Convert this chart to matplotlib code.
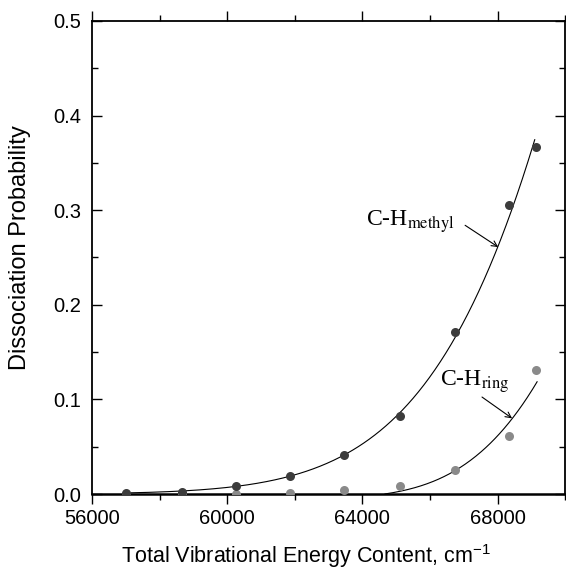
"""Dissociation probability vs total vibrational energy (C-H methyl / ring)."""
import matplotlib
matplotlib.use("Agg")
import matplotlib.pyplot as plt
import numpy as np
from matplotlib.ticker import MultipleLocator

plt.rcParams["font.family"] = ["Liberation Sans", "DejaVu Sans"]
plt.rcParams["mathtext.fontset"] = "stix"

# ── data ────────────────────────────────────────────────────────────────────
energy = [57000, 58650, 60250, 61850, 63450, 65100, 66750, 68350, 69150]
p_methyl = [0.001, 0.002, 0.008, 0.019, 0.041, 0.082, 0.171, 0.305, 0.367]
p_ring = [0.000, 0.000, 0.000, 0.001, 0.004, 0.009, 0.025, 0.061, 0.131]

# the ring curve is a model line, not a fit to the dots: points read along it
ring_curve_e = [64670, 66000, 67690, 68430, 69170]
ring_curve_p = [0.000, 0.0122, 0.0497, 0.0803, 0.1184]

METHYL_C = "#3c3c3c"
RING_C = "#8a8a8a"


def fit_methyl():
    x = np.array(energy, float)
    y = np.array(p_methyl, float)
    m = y >= 0.008
    c = np.polyfit(x[m] - 60000, np.log(y[m]), 2)
    xs = np.linspace(57000, 69100, 300)
    return xs, np.exp(np.polyval(c, xs - 60000))


def smooth_ring():
    x = np.array(ring_curve_e, float) - 64000
    c = np.polyfit(x, ring_curve_p, 3)
    xs = np.linspace(x[0], x[-1], 200)
    return xs + 64000, np.clip(np.polyval(c, xs), 0, None)


fig = plt.figure(figsize=(5.66, 5.70), dpi=100)
ax = fig.add_axes([0.1625, 0.1333, 0.836, 0.830])

xm, ym = fit_methyl()
xr, yr = smooth_ring()
ax.plot(xm, ym, color="black", lw=0.8, zorder=2)
ax.plot(xr, yr, color="black", lw=0.8, zorder=2)
ax.plot(energy, p_ring, "o", ms=6.5, color=RING_C, mec="none", zorder=3)
ax.plot(energy, p_methyl, "o", ms=6.5, color=METHYL_C, mec="none", zorder=4)

arrow = dict(arrowstyle="->", lw=0.8, color="black", shrinkA=0, shrinkB=0)
ax.text(64110, 0.284, "C-H$_{\\rm methyl}$", fontsize=17,
        family="Liberation Serif", va="baseline", ha="left")
ax.annotate("", xy=(68020, 0.261), xytext=(67040, 0.284), arrowprops=arrow)
ax.text(66300, 0.115, "C-H$_{\\rm ring}$", fontsize=17,
        family="Liberation Serif", va="baseline", ha="left")
ax.annotate("", xy=(68430, 0.080), xytext=(67540, 0.1025), arrowprops=arrow)

ax.set_xlim(56000, 70000)
ax.set_ylim(0, 0.5)
ax.xaxis.set_major_locator(MultipleLocator(4000))
ax.xaxis.set_minor_locator(MultipleLocator(2000))
ax.yaxis.set_major_locator(MultipleLocator(0.1))
ax.yaxis.set_minor_locator(MultipleLocator(0.05))
ax.yaxis.set_major_formatter(lambda v, _: f"{v:.1f}")

ax.tick_params(axis="both", which="both", labelsize=14.5, top=True, right=True)
ax.tick_params(axis="x", which="both", direction="out", pad=4)
ax.tick_params(axis="y", which="both", direction="in", pad=8)
ax.tick_params(which="major", length=7, width=1)
ax.tick_params(which="minor", length=4, width=1)
for s in ax.spines.values():
    s.set_linewidth(1.3)
ax.spines["bottom"].set_linewidth(1.8)

ax.set_xlabel("Total Vibrational Energy Content, cm$^{\\mathregular{-1}}$", fontsize=15.5)
ax.xaxis.set_label_coords(0.452, -0.103)
ax.set_ylabel("Dissociation Probability", fontsize=17)
ax.yaxis.set_label_coords(-0.128, 0.52)

fig.savefig("out.png", dpi=100)
